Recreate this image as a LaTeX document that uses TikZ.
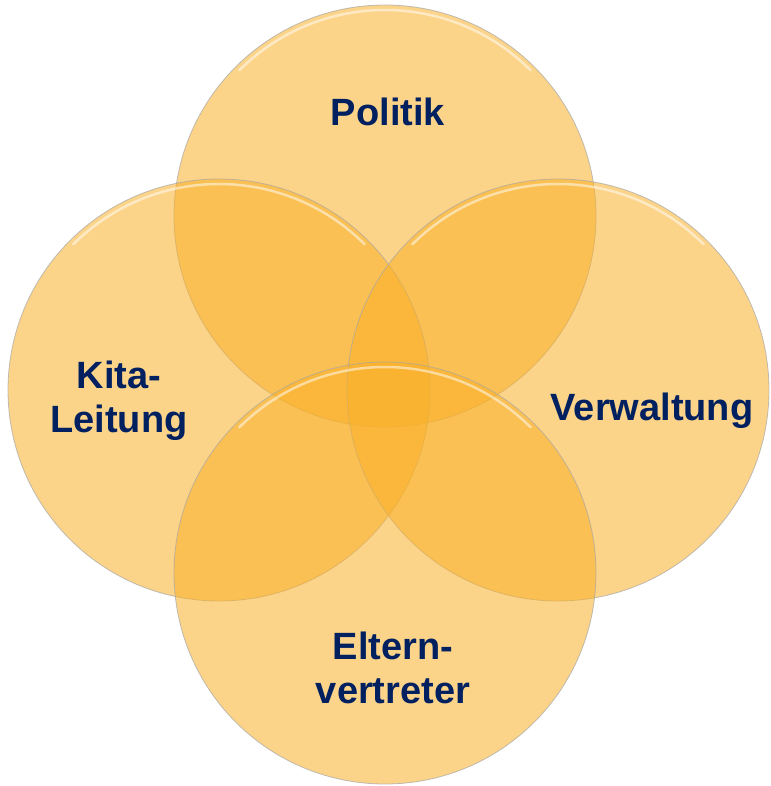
\documentclass[tikz,border=0pt]{standalone}
\usepackage{fontspec}
\setmainfont{Liberation Sans}
\definecolor{ringfill}{RGB}{249,176,40}
\definecolor{ringtext}{RGB}{0,32,96}

\begin{document}
\begin{tikzpicture}[x=1pt,y=-1pt,
		ring/.style={circle, minimum size=422pt, inner sep=0pt, fill=ringfill, fill opacity=0.55, draw=black!35, draw opacity=0.7, line width=0.8pt},
		shine/.style={white, line width=2.5pt, opacity=0.5, line cap=round},
		tag/.style={text=ringtext, font=\bfseries\fontsize{38}{44}\selectfont, align=center}]
		\useasboundingbox (0,0) rectangle (770,786);
		% the four circles
		\node[ring] (P) at (385,216) {};
		\node[ring] (K) at (219,390) {};
		\node[ring] (V) at (558,390) {};
		\node[ring] (E) at (385,573) {};
		% glassy rim
		\foreach \c in {P,K,V,E}
			\draw[shine] (\c.center) ++(225:206) arc[start angle=225, end angle=315, radius=206];
		% labels
		\node[tag] (politik) at (388,112) {Politik};
		\node[tag] (kita) at (119,401) {Kita-\\Leitung};
		\node[tag] (verwaltung) at (652,411) {Verwaltung};
		\node[tag] (eltern) at (393,668) {Eltern-\\vertreter};
	\end{tikzpicture}
\end{document}
